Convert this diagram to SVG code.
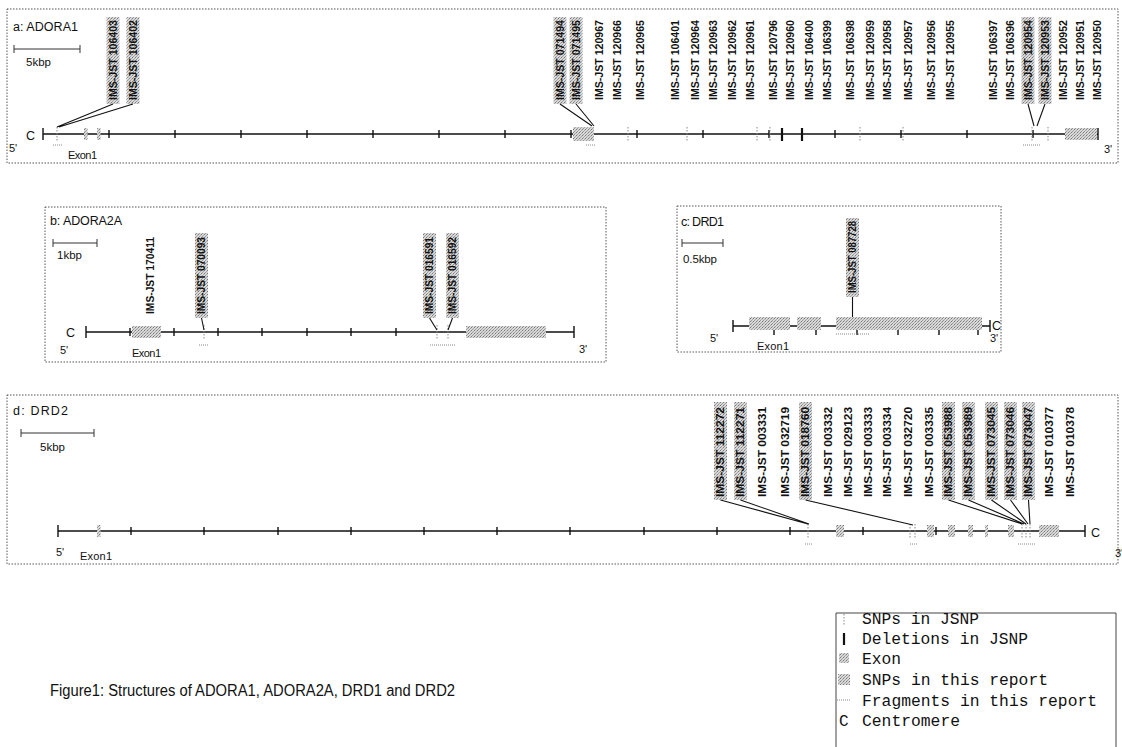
<svg xmlns="http://www.w3.org/2000/svg" width="1122" height="747" viewBox="0 0 1122 747">
<defs>
<pattern id="stip" width="3" height="3" patternUnits="userSpaceOnUse">
<rect width="3" height="3" fill="#d8d8d8"/>
<rect width="1" height="1" fill="#7a7a7a"/>
<rect x="2" y="1" width="1" height="1" fill="#a6a6a6"/>
<rect x="1" y="2" width="1" height="1" fill="#9a9a9a"/>
</pattern>
<style>
.box{fill:none;stroke:#555;stroke-width:1;stroke-dasharray:1.5 1.5}
.t{font-family:"Liberation Sans",Arial,sans-serif;fill:#111}
.lab{font-family:"Liberation Sans",Arial,sans-serif;font-size:11px;font-weight:bold;fill:#111}
.hl{fill:url(#stip)}
.ex{fill:url(#stip)}
.trk{stroke:#111;stroke-width:1.6;fill:none}
.tk{stroke:#111;stroke-width:1.4}
.snp{stroke:#888;stroke-width:1;stroke-dasharray:1.5 1.5}
.del{stroke:#111;stroke-width:2.2}
.frag{stroke:#888;stroke-width:1;stroke-dasharray:1 1}
.con{stroke:#111;stroke-width:1.1;fill:none}
.sb{stroke:#333;stroke-width:1}
.leg{font-family:"Liberation Mono",monospace;font-size:16px;fill:#111}
</style>
</defs>
<rect width="1122" height="747" fill="#fff"/>

<!-- Panel a -->
<g id="panel-a">
<rect class="box" x="7" y="9" width="1111" height="154"/>
<text class="t" x="13" y="31" font-size="12.5" textLength="65">a: ADORA1</text>
<path class="sb" d="M14,49H80M14,45V53M80,45V53"/>
<text class="t" x="26" y="66" font-size="11.5">5kbp</text>
<g id="a-labels">
<rect class="hl" x="106.5" y="17" width="13" height="87"/>
<rect class="hl" x="126.5" y="17" width="13" height="87"/>
<rect class="hl" x="553.5" y="17" width="13" height="87"/>
<rect class="hl" x="569.5" y="17" width="13" height="87"/>
<rect class="hl" x="1021.5" y="17" width="13" height="87"/>
<rect class="hl" x="1038.5" y="17" width="13" height="87"/>
<text class="lab" transform="translate(113,100) rotate(-90)" dy="0.36em" textLength="80" lengthAdjust="spacingAndGlyphs">IMS-JST 106403</text>
<text class="lab" transform="translate(133,100) rotate(-90)" dy="0.36em" textLength="80" lengthAdjust="spacingAndGlyphs">IMS-JST 106402</text>
<text class="lab" transform="translate(560,100) rotate(-90)" dy="0.36em" textLength="80" lengthAdjust="spacingAndGlyphs">IMS-JST 071494</text>
<text class="lab" transform="translate(576,100) rotate(-90)" dy="0.36em" textLength="80" lengthAdjust="spacingAndGlyphs">IMS-JST 071495</text>
<text class="lab" transform="translate(599,100) rotate(-90)" dy="0.36em" textLength="80" lengthAdjust="spacingAndGlyphs">IMS-JST 120967</text>
<text class="lab" transform="translate(617,100) rotate(-90)" dy="0.36em" textLength="80" lengthAdjust="spacingAndGlyphs">IMS-JST 120966</text>
<text class="lab" transform="translate(640,100) rotate(-90)" dy="0.36em" textLength="80" lengthAdjust="spacingAndGlyphs">IMS-JST 120965</text>
<text class="lab" transform="translate(675,100) rotate(-90)" dy="0.36em" textLength="80" lengthAdjust="spacingAndGlyphs">IMS-JST 106401</text>
<text class="lab" transform="translate(695,100) rotate(-90)" dy="0.36em" textLength="80" lengthAdjust="spacingAndGlyphs">IMS-JST 120964</text>
<text class="lab" transform="translate(713,100) rotate(-90)" dy="0.36em" textLength="80" lengthAdjust="spacingAndGlyphs">IMS-JST 120963</text>
<text class="lab" transform="translate(732,100) rotate(-90)" dy="0.36em" textLength="80" lengthAdjust="spacingAndGlyphs">IMS-JST 120962</text>
<text class="lab" transform="translate(750,100) rotate(-90)" dy="0.36em" textLength="80" lengthAdjust="spacingAndGlyphs">IMS-JST 120961</text>
<text class="lab" transform="translate(773,100) rotate(-90)" dy="0.36em" textLength="80" lengthAdjust="spacingAndGlyphs">IMS-JST 120796</text>
<text class="lab" transform="translate(790,100) rotate(-90)" dy="0.36em" textLength="80" lengthAdjust="spacingAndGlyphs">IMS-JST 120960</text>
<text class="lab" transform="translate(809,100) rotate(-90)" dy="0.36em" textLength="80" lengthAdjust="spacingAndGlyphs">IMS-JST 106400</text>
<text class="lab" transform="translate(827,100) rotate(-90)" dy="0.36em" textLength="80" lengthAdjust="spacingAndGlyphs">IMS-JST 106399</text>
<text class="lab" transform="translate(850,100) rotate(-90)" dy="0.36em" textLength="80" lengthAdjust="spacingAndGlyphs">IMS-JST 106398</text>
<text class="lab" transform="translate(870,100) rotate(-90)" dy="0.36em" textLength="80" lengthAdjust="spacingAndGlyphs">IMS-JST 120959</text>
<text class="lab" transform="translate(887,100) rotate(-90)" dy="0.36em" textLength="80" lengthAdjust="spacingAndGlyphs">IMS-JST 120958</text>
<text class="lab" transform="translate(908,100) rotate(-90)" dy="0.36em" textLength="80" lengthAdjust="spacingAndGlyphs">IMS-JST 120957</text>
<text class="lab" transform="translate(931,100) rotate(-90)" dy="0.36em" textLength="80" lengthAdjust="spacingAndGlyphs">IMS-JST 120956</text>
<text class="lab" transform="translate(950,100) rotate(-90)" dy="0.36em" textLength="80" lengthAdjust="spacingAndGlyphs">IMS-JST 120955</text>
<text class="lab" transform="translate(993,100) rotate(-90)" dy="0.36em" textLength="80" lengthAdjust="spacingAndGlyphs">IMS-JST 106397</text>
<text class="lab" transform="translate(1010,100) rotate(-90)" dy="0.36em" textLength="80" lengthAdjust="spacingAndGlyphs">IMS-JST 106396</text>
<text class="lab" transform="translate(1028,100) rotate(-90)" dy="0.36em" textLength="80" lengthAdjust="spacingAndGlyphs">IMS-JST 120954</text>
<text class="lab" transform="translate(1045,100) rotate(-90)" dy="0.36em" textLength="80" lengthAdjust="spacingAndGlyphs">IMS-JST 120953</text>
<text class="lab" transform="translate(1063,100) rotate(-90)" dy="0.36em" textLength="80" lengthAdjust="spacingAndGlyphs">IMS-JST 120952</text>
<text class="lab" transform="translate(1080,100) rotate(-90)" dy="0.36em" textLength="80" lengthAdjust="spacingAndGlyphs">IMS-JST 120951</text>
<text class="lab" transform="translate(1097,100) rotate(-90)" dy="0.36em" textLength="80" lengthAdjust="spacingAndGlyphs">IMS-JST 120950</text>
</g>
<g id="a-track">
<path class="trk" d="M43,134H1098"/>
<path class="tk" d="M43,128V140M1098,128V140M109,130V138M175,130V138M241,130V138M307,130V138M373,130V138M439,130V138M505,130V138M571,130V138M637,130V138M703,130V138M769,130V138M835,130V138M901,130V138M967,130V138M1033,130V138"/>
<path class="snp" d="M57,127V141M628,127V141M687,127V141M757,127V141M770,127V141M860,127V141M903,127V141M1032,127V141M1048,127V141"/>
<path class="del" d="M782,128V141M802,128V141"/>
<rect class="ex" x="84" y="128" width="3.5" height="12"/>
<rect class="ex" x="97" y="128" width="3.5" height="12"/>
<rect class="ex" x="573" y="127" width="21" height="14"/>
<rect class="ex" x="1065" y="128" width="32" height="12"/>
<path class="frag" d="M53,145H62M586,145H596M1023,145H1041"/>
<text class="t" x="26" y="140" font-size="12.5">C</text>
<text class="t" x="9" y="152" font-size="11">5'</text>
<text class="t" x="68" y="159" font-size="11" textLength="29">Exon1</text>
<text class="t" x="1104" y="153" font-size="11">3'</text>
</g>
</g>

<!-- Panel b -->
<g id="panel-b">
<rect class="box" x="45" y="207" width="561" height="155"/>
<text class="t" x="50" y="225" font-size="12.5" textLength="72">b: ADORA2A</text>
<path class="sb" d="M53,243H97M53,239V247M97,239V247"/>
<text class="t" x="57" y="259" font-size="11.5">1kbp</text>
<g id="b-labels">
<rect class="hl" x="195" y="233" width="13" height="85"/>
<rect class="hl" x="423" y="233" width="13" height="85"/>
<rect class="hl" x="446" y="233" width="13" height="85"/>
<text class="lab" transform="translate(150,314) rotate(-90)" dy="0.36em" textLength="77" lengthAdjust="spacingAndGlyphs">IMS-JST 170411</text>
<text class="lab" transform="translate(201.5,314) rotate(-90)" dy="0.36em" textLength="77" lengthAdjust="spacingAndGlyphs">IMS-JST 070093</text>
<text class="lab" transform="translate(429.5,314) rotate(-90)" dy="0.36em" textLength="77" lengthAdjust="spacingAndGlyphs">IMS-JST 016591</text>
<text class="lab" transform="translate(452.5,314) rotate(-90)" dy="0.36em" textLength="77" lengthAdjust="spacingAndGlyphs">IMS-JST 016592</text>
</g>
<g id="b-track">
<path class="trk" d="M86,332H574"/>
<path class="tk" d="M86,326V338M574,326V338M130,328V336M174,328V336M218,328V336M262,328V336M307,328V336M351,328V336M396,328V336"/>
<path class="snp" d="M204,325V339M437,325V339M448,325V339"/>
<rect class="ex" x="132" y="326" width="29" height="12"/>
<rect class="ex" x="466" y="326" width="80" height="12"/>
<path class="frag" d="M199,345H209M430,345H456"/>
<text class="t" x="66" y="337" font-size="12.5">C</text>
<text class="t" x="60" y="354" font-size="11">5'</text>
<text class="t" x="132" y="357" font-size="11" textLength="29">Exon1</text>
<text class="t" x="579" y="353" font-size="11">3'</text>
</g>
</g>

<!-- Panel c -->
<g id="panel-c">
<rect class="box" x="677" y="206" width="324" height="146"/>
<text class="t" x="681" y="226" font-size="12.5" textLength="43">c: DRD1</text>
<path class="sb" d="M682,243H723M682,239V247M723,239V247"/>
<text class="t" x="683" y="263" font-size="11.5" textLength="34">0.5kbp</text>
<g id="c-labels">
<rect class="hl" x="846" y="218" width="13" height="79"/>
<text class="lab" transform="translate(852.5,293) rotate(-90)" dy="0.36em" textLength="72" lengthAdjust="spacingAndGlyphs">IMS-JST 087728</text>
</g>
<g id="c-track">
<path class="trk" d="M733,326H990"/>
<path class="tk" d="M733,320V332M990,320V332M774,320V335M816,320V335M857,320V335M898,320V335M939,320V335M978,320V335"/>
<rect class="ex" x="749" y="317" width="41" height="13"/>
<rect class="ex" x="797" y="317" width="24" height="13"/>
<rect class="ex" x="836" y="317" width="146" height="13"/>
<path class="frag" d="M836,334H870"/>
<text class="t" x="992" y="330" font-size="12.5">C</text>
<text class="t" x="990" y="342" font-size="11">3'</text>
<text class="t" x="710" y="342" font-size="11">5'</text>
<text class="t" x="757" y="350" font-size="11" textLength="32">Exon1</text>
</g>
</g>

<!-- Panel d -->
<g id="panel-d">
<rect class="box" x="7" y="395" width="1111" height="169"/>
<text class="t" x="13" y="415" font-size="12.5" textLength="55">d: DRD2</text>
<path class="sb" d="M21,433H94M21,429V437M94,429V437"/>
<text class="t" x="40" y="451" font-size="11.5">5kbp</text>
<g id="d-labels">
<rect class="hl" x="714" y="402" width="13" height="98"/>
<rect class="hl" x="734" y="402" width="13" height="98"/>
<rect class="hl" x="799" y="402" width="13" height="98"/>
<rect class="hl" x="942" y="402" width="13" height="98"/>
<rect class="hl" x="962" y="402" width="13" height="98"/>
<rect class="hl" x="985" y="402" width="13" height="98"/>
<rect class="hl" x="1004" y="402" width="13" height="98"/>
<rect class="hl" x="1022" y="402" width="13" height="98"/>
<text class="lab" transform="translate(720.5,497) rotate(-90)" dy="0.36em" textLength="90" lengthAdjust="spacingAndGlyphs">IMS-JST 112272</text>
<text class="lab" transform="translate(740.5,497) rotate(-90)" dy="0.36em" textLength="90" lengthAdjust="spacingAndGlyphs">IMS-JST 112271</text>
<text class="lab" transform="translate(762,497) rotate(-90)" dy="0.36em" textLength="90" lengthAdjust="spacingAndGlyphs">IMS-JST 003331</text>
<text class="lab" transform="translate(785,497) rotate(-90)" dy="0.36em" textLength="90" lengthAdjust="spacingAndGlyphs">IMS-JST 032719</text>
<text class="lab" transform="translate(805.5,497) rotate(-90)" dy="0.36em" textLength="90" lengthAdjust="spacingAndGlyphs">IMS-JST 018760</text>
<text class="lab" transform="translate(828,497) rotate(-90)" dy="0.36em" textLength="90" lengthAdjust="spacingAndGlyphs">IMS-JST 003332</text>
<text class="lab" transform="translate(848,497) rotate(-90)" dy="0.36em" textLength="90" lengthAdjust="spacingAndGlyphs">IMS-JST 029123</text>
<text class="lab" transform="translate(868,497) rotate(-90)" dy="0.36em" textLength="90" lengthAdjust="spacingAndGlyphs">IMS-JST 003333</text>
<text class="lab" transform="translate(887,497) rotate(-90)" dy="0.36em" textLength="90" lengthAdjust="spacingAndGlyphs">IMS-JST 003334</text>
<text class="lab" transform="translate(908,497) rotate(-90)" dy="0.36em" textLength="90" lengthAdjust="spacingAndGlyphs">IMS-JST 032720</text>
<text class="lab" transform="translate(929,497) rotate(-90)" dy="0.36em" textLength="90" lengthAdjust="spacingAndGlyphs">IMS-JST 003335</text>
<text class="lab" transform="translate(948.5,497) rotate(-90)" dy="0.36em" textLength="90" lengthAdjust="spacingAndGlyphs">IMS-JST 053988</text>
<text class="lab" transform="translate(968.5,497) rotate(-90)" dy="0.36em" textLength="90" lengthAdjust="spacingAndGlyphs">IMS-JST 053989</text>
<text class="lab" transform="translate(991.5,497) rotate(-90)" dy="0.36em" textLength="90" lengthAdjust="spacingAndGlyphs">IMS-JST 073045</text>
<text class="lab" transform="translate(1010.5,497) rotate(-90)" dy="0.36em" textLength="90" lengthAdjust="spacingAndGlyphs">IMS-JST 073046</text>
<text class="lab" transform="translate(1028.5,497) rotate(-90)" dy="0.36em" textLength="90" lengthAdjust="spacingAndGlyphs">IMS-JST 073047</text>
<text class="lab" transform="translate(1049,497) rotate(-90)" dy="0.36em" textLength="90" lengthAdjust="spacingAndGlyphs">IMS-JST 010377</text>
<text class="lab" transform="translate(1070,497) rotate(-90)" dy="0.36em" textLength="90" lengthAdjust="spacingAndGlyphs">IMS-JST 010378</text>
</g>
<g id="d-track">
<path class="trk" d="M58,531H1085"/>
<path class="tk" d="M58,525V537M1085,525V537M131,527V535M204,527V535M278,527V535M351,527V535M424,527V535M497,527V535M570,527V535M644,527V535M717,527V535M790,527V535M863,527V535M936,527V535"/>
<path class="snp" d="M808,524V538M910,524V538M915,524V538M1022,524V538M1026,524V538M1030,524V538"/>
<rect class="ex" x="97" y="525" width="3.5" height="12"/>
<rect class="ex" x="836" y="525" width="8" height="12"/>
<rect class="ex" x="927" y="525" width="7" height="12"/>
<rect class="ex" x="948" y="525" width="7" height="12"/>
<rect class="ex" x="968" y="525" width="5" height="12"/>
<rect class="ex" x="985" y="525" width="3" height="12"/>
<rect class="ex" x="1008" y="525" width="6" height="12"/>
<rect class="ex" x="1039" y="525" width="20" height="12"/>
<path class="frag" d="M805,544H812M910,544H918M1018,544H1035"/>
<text class="t" x="1091" y="537" font-size="12.5">C</text>
<text class="t" x="1115" y="557" font-size="11">3'</text>
<text class="t" x="56" y="556" font-size="11">5'</text>
<text class="t" x="80" y="560" font-size="11" textLength="32">Exon1</text>
</g>
</g>

<!-- Connectors -->
<g id="connectors" class="con">
<path d="M113,104L57,127M133,104L59,127"/>
<path d="M560,104L592,126M576,104L594,126"/>
<path d="M1028,104L1034,126M1045,104L1037,126"/>
<path d="M201.5,318L204,330M429.5,318L437,330M452.5,318L448,330"/>
<path d="M852.5,297V317"/>
<path d="M720.5,500L808,524M740.5,500L809,524M805.5,500L913,525"/>
<path d="M948.5,500L1022,524M968.5,500L1024,524M991.5,500L1026,524M1010.5,500L1028,524M1028.5,500L1030,524"/>
</g>

<!-- Legend -->
<g id="legend">
<path d="M836,747V613H1116V747" fill="none" stroke="#444" stroke-width="1"/>
<path class="snp" d="M844,614V626"/>
<text class="leg" x="862" y="624" textLength="117" lengthAdjust="spacingAndGlyphs">SNPs in JSNP</text>
<path class="del" d="M844,633V645"/>
<text class="leg" x="862" y="644" textLength="166" lengthAdjust="spacingAndGlyphs">Deletions in JSNP</text>
<rect class="ex" x="839" y="653" width="10" height="10"/>
<text class="leg" x="862" y="664" textLength="39" lengthAdjust="spacingAndGlyphs">Exon</text>
<rect class="hl" x="838" y="674" width="12" height="11"/>
<text class="leg" x="862" y="685" textLength="186" lengthAdjust="spacingAndGlyphs">SNPs in this report</text>
<path class="frag" d="M837,700H851"/>
<text class="leg" x="862" y="706" textLength="235" lengthAdjust="spacingAndGlyphs">Fragments in this report</text>
<text class="leg" x="839" y="726">C</text>
<text class="leg" x="862" y="726" textLength="98" lengthAdjust="spacingAndGlyphs">Centromere</text>
</g>

<!-- Caption -->
<text id="caption" class="t" x="50" y="696" font-size="16" textLength="405" lengthAdjust="spacingAndGlyphs">Figure1: Structures of ADORA1, ADORA2A, DRD1 and DRD2</text>
</svg>
